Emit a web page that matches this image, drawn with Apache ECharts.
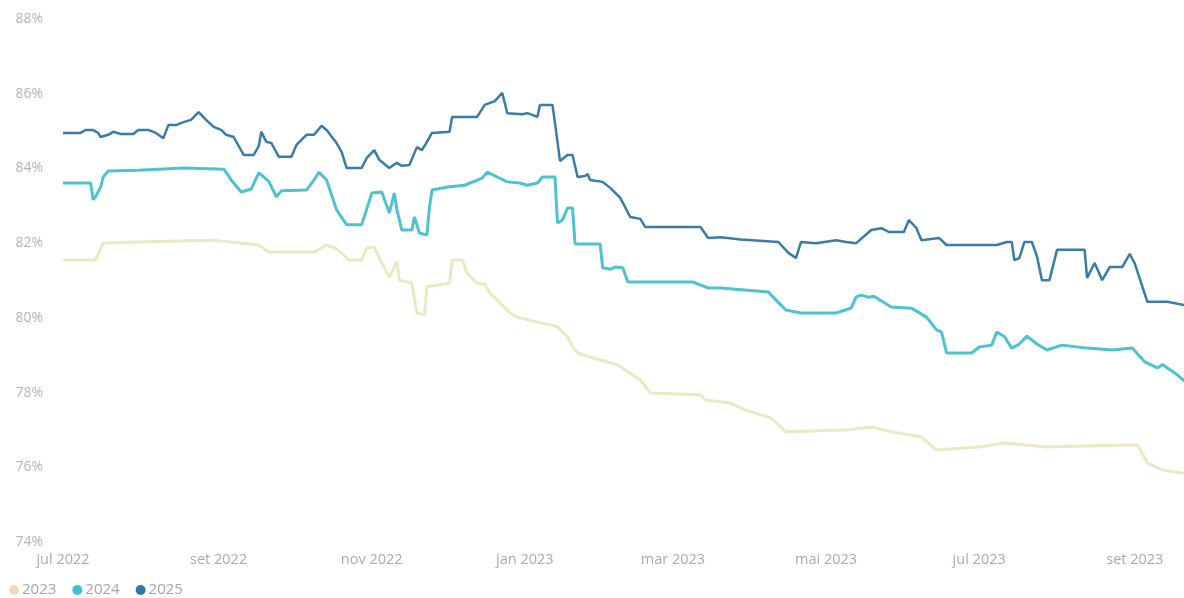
<!DOCTYPE html>
<html>
<head>
<meta charset="utf-8">
<script src="https://cdn.jsdelivr.net/npm/echarts@6/dist/echarts.min.js"></script>
<style>
html,body{margin:0;padding:0;background:#fff;}
#chart{width:1184px;height:598px;}
</style>
</head>
<body>
<div id="chart"></div>
<script>
// x positions are days after 1 Jul 2022
const startDate = '2022-07-01';
const endDay = 446.6;
const seriesNames = ['2023', '2024', '2025'];
const tickDates = ['2022-07-01','2022-09-01','2022-11-01','2023-01-01','2023-03-01','2023-05-01','2023-07-01','2023-09-01'];
const tickLabels = ['jul 2022','set 2022','nov 2022','jan 2023','mar 2023','mai 2023','jul 2023','set 2023'];
const yTicks = [74, 76, 78, 80, 82, 84, 86, 88];

const days2025 = [0,7,9,12,14,15,18,20,23,28,30,34,37,40,42,45,48,51,54,57,60,63,65,68,70,72,76,78,79,81,83,86,91,93,97,100,103,105,109,111,113,119,121,124,126,130,133,135,138,141,143,145,147,154,155,165,168,172,175,177,183,185,189,190,195,196,198,201,203,205,208,209,210,215,218,222,226,230,232,254,257,262,270,285,289,292,294,300,308,312,316,322,326,329,335,337,340,342,349,352,372,376,378,379,381,383,386,388,390,393,396,407,408,411,414,417,422,425,427,432,440,447];
const vals2025 = [84.95,84.95,85.03,85.03,84.95,84.84,84.90,84.98,84.92,84.92,85.03,85.03,84.95,84.81,85.16,85.16,85.24,85.30,85.51,85.30,85.11,85.03,84.90,84.84,84.60,84.36,84.36,84.60,84.98,84.71,84.68,84.31,84.31,84.63,84.90,84.90,85.14,85.03,84.68,84.44,84.01,84.01,84.28,84.49,84.23,84.01,84.15,84.07,84.09,84.57,84.49,84.71,84.95,84.98,85.38,85.38,85.70,85.80,86.02,85.48,85.45,85.48,85.38,85.70,85.70,85.22,84.20,84.36,84.36,83.77,83.80,83.85,83.69,83.64,83.48,83.21,82.70,82.65,82.43,82.43,82.14,82.16,82.10,82.03,81.74,81.60,82.03,82.00,82.08,82.03,82.00,82.35,82.40,82.30,82.30,82.62,82.40,82.08,82.14,81.95,81.95,82.03,82.03,81.55,81.60,82.03,82.03,81.65,81.01,81.01,81.82,81.82,81.07,81.47,81.01,81.36,81.36,81.71,81.45,80.43,80.43,80.34];

const days2024 = [0,11,12,13,15,16,18,30,48,64,66,67,71,75,78,80,82,85,87,97,100,102,105,109,113,119,123,127,130,132,133,135,139,140,142,145,146,147,153,160,167,169,173,177,182,185,189,191,196,197,199,201,203,204,214,215,218,220,223,225,251,257,262,281,284,288,294,308,314,316,318,321,323,330,338,344,348,350,352,362,365,370,372,375,378,381,384,388,392,398,408,418,426,431,436,438,443,447];
const vals2024 = [83.61,83.61,83.16,83.25,83.50,83.77,83.93,83.95,84.01,83.98,83.80,83.69,83.37,83.45,83.88,83.77,83.65,83.24,83.40,83.42,83.69,83.90,83.69,82.89,82.49,82.49,83.34,83.37,82.81,83.34,82.90,82.35,82.35,82.70,82.27,82.22,82.97,83.42,83.50,83.55,83.74,83.90,83.77,83.64,83.61,83.55,83.61,83.77,83.77,82.54,82.62,82.94,82.94,81.98,81.98,81.34,81.30,81.36,81.34,80.96,80.96,80.80,80.80,80.69,80.48,80.21,80.13,80.13,80.26,80.56,80.61,80.55,80.58,80.29,80.26,80.02,79.68,79.62,79.06,79.06,79.22,79.27,79.62,79.50,79.19,79.30,79.51,79.30,79.14,79.27,79.19,79.14,79.19,78.82,78.66,78.75,78.52,78.30];

const days2023 = [0,13,16,30,45,60,78,82,100,105,109,114,119,121,124,127,130,133,134,139,141,144,145,154,155,159,161,165,168,170,173,178,181,189,197,201,203,205,214,221,226,230,234,254,256,266,272,282,288,312,322,330,342,348,365,375,392,428,432,438,447];
const vals2023 = [81.55,81.55,82.00,82.03,82.06,82.08,81.95,81.76,81.76,81.95,81.85,81.55,81.55,81.87,81.90,81.47,81.09,81.50,81.01,80.93,80.13,80.08,80.83,80.93,81.55,81.55,81.20,80.93,80.90,80.67,80.48,80.13,80.02,79.89,79.76,79.49,79.22,79.06,78.87,78.74,78.52,78.34,77.99,77.94,77.80,77.72,77.53,77.32,76.95,77.00,77.08,76.95,76.81,76.46,76.54,76.65,76.54,76.60,76.12,75.93,75.83];

const DAY = 86400000;
const t0 = Date.UTC(2022, 6, 1);
function pairs(days, vals) { return days.map((d, i) => [d, vals[i]]); }
const tickDays = tickDates.map(d => Math.round((Date.parse(d + 'T00:00:00Z') - t0) / DAY));

const colors = ['#ece8c4', '#4ec3d0', '#3a7ca6'];
const legendColors = ['#f3d8bd', '#3fbfd1', '#2f78a4'];
const FONT = '"Open Sans", "Noto Sans", sans-serif';

const chart = echarts.init(document.getElementById('chart'), null, {renderer: 'canvas'});
chart.setOption({
  animation: false,
  backgroundColor: '#ffffff',
  grid: {left: 63, right: 0, top: 19, bottom: 56, containLabel: false},
  legend: {
    left: 9, top: 581, padding: 0,
    icon: 'circle', itemWidth: 10, itemHeight: 10, itemGap: 16,
    textStyle: {color: '#a6a6a6', fontSize: 15, lineHeight: 18, fontFamily: FONT, padding: [0, 0, 0, -2]},
    data: seriesNames.map((n, i) => ({name: n, itemStyle: {color: legendColors[i]}}))
  },
  visualMap: {
    show: false, type: 'piecewise', seriesIndex: 0, dimension: 0,
    pieces: [
      {lt: 131.5, color: colors[0]},
      {gte: 131.5, lte: 134, color: '#f2b08a'},
      {gt: 134, color: colors[0]}
    ]
  },
  xAxis: {
    type: 'value',
    min: 0,
    max: endDay,
    axisLine: {show: false},
    axisTick: {show: false},
    splitLine: {show: false},
    axisLabel: {
      customValues: tickDays,
      color: '#ababab', fontSize: 14.5, fontFamily: FONT, margin: 10,
      showMinLabel: true, showMaxLabel: true,
      formatter: function (v) {
        const idx = tickDays.indexOf(v);
        return idx >= 0 ? tickLabels[idx] : '';
      }
    }
  },
  yAxis: {
    type: 'value',
    min: yTicks[0], max: yTicks[yTicks.length - 1], interval: 2,
    axisLine: {show: false},
    axisTick: {show: false},
    splitLine: {show: false},
    axisLabel: {color: '#b5b5b5', fontSize: 14, fontFamily: FONT, margin: 20, formatter: '{value}%'}
  },
  series: [
    {name: seriesNames[0], type: 'line', data: pairs(days2023, vals2023), showSymbol: false, symbol: 'none',
     lineStyle: {color: colors[0], width: 3}, itemStyle: {color: legendColors[0]}, z: 1},
    {name: seriesNames[1], type: 'line', data: pairs(days2024, vals2024), showSymbol: false, symbol: 'none',
     lineStyle: {color: colors[1], width: 3}, itemStyle: {color: legendColors[1]}, z: 2},
    {name: seriesNames[2], type: 'line', data: pairs(days2025, vals2025), showSymbol: false, symbol: 'none',
     lineStyle: {color: colors[2], width: 2.5}, itemStyle: {color: legendColors[2]}, z: 3}
  ]
});
</script>
</body>
</html>
